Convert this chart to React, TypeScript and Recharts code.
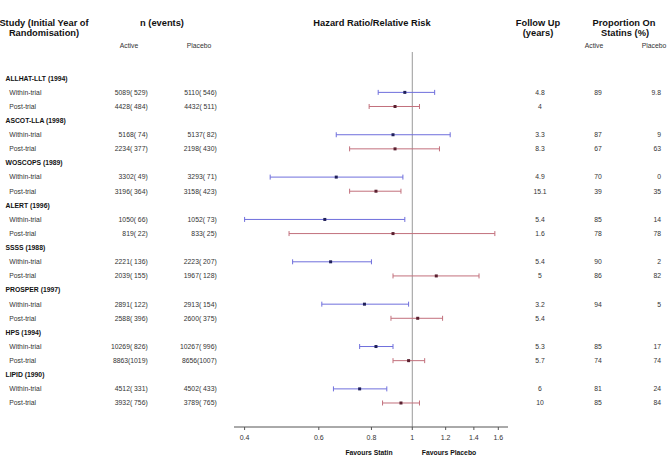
import { ScatterChart, Scatter, XAxis, YAxis, ErrorBar, ReferenceLine } from 'recharts';

const studies = [
  'ALLHAT-LLT (1994)',
  'ASCOT-LLA (1998)',
  'WOSCOPS (1989)',
  'ALERT (1996)',
  'SSSS (1988)',
  'PROSPER (1997)',
  'HPS (1994)',
  'LIPID (1990)',
];

// hazard ratio / relative risk with 95% CI
const withinHR = [0.96, 0.9, 0.66, 0.62, 0.64, 0.77, 0.82, 0.75];
const withinLow = [0.83, 0.66, 0.46, 0.4, 0.52, 0.61, 0.75, 0.65];
const withinHigh = [1.13, 1.23, 0.95, 0.96, 0.8, 0.98, 0.9, 0.87];
const postHR = [0.91, 0.91, 0.82, 0.9, 1.14, 1.03, 0.98, 0.94];
const postLow = [0.79, 0.71, 0.71, 0.51, 0.9, 0.89, 0.9, 0.85];
const postHigh = [1.04, 1.16, 0.94, 1.57, 1.44, 1.18, 1.07, 1.04];

// n (events)
const withinActive = ['5089( 529)', '5168( 74)', '3302( 49)', '1050( 66)', '2221( 136)', '2891( 122)', '10269( 826)', '4512( 331)'];
const withinPlacebo = ['5110( 546)', '5137( 82)', '3293( 71)', '1052( 73)', '2223( 207)', '2913( 154)', '10267( 996)', '4502( 433)'];
const postActive = ['4428( 484)', '2234( 377)', '3196( 364)', '819( 22)', '2039( 155)', '2588( 396)', '8863(1019)', '3932( 756)'];
const postPlacebo = ['4432( 511)', '2198( 430)', '3158( 423)', '833( 25)', '1967( 128)', '2600( 375)', '8656(1007)', '3789( 765)'];

// follow up (years) and proportion on statins (%)
const withinFollowUp = ['4.8', '3.3', '4.9', '5.4', '5.4', '3.2', '5.3', '6'];
const postFollowUp = ['4', '8.3', '15.1', '1.6', '5', '5.4', '5.7', '10'];
const withinPropActive = ['89', '87', '70', '85', '90', '94', '85', '81'];
const withinPropPlacebo = ['9.8', '9', '0', '14', '2', '5', '17', '24'];
const postPropActive = ['', '67', '39', '78', '86', '', '74', '85'];
const postPropPlacebo = ['', '63', '35', '78', '82', '', '74', '84'];

const xTicks = [0.4, 0.6, 0.8, 1, 1.2, 1.4, 1.6];

type Row = { kind: 'study' | 'within' | 'post'; study: number };

const rows: Row[] = studies.flatMap((_, i) => [
  { kind: 'study' as const, study: i },
  { kind: 'within' as const, study: i },
  { kind: 'post' as const, study: i },
]);
const rowTicks = rows.map((_, i) => i);

const withinData = studies.map((_, i) => ({
  row: i * 3 + 1,
  hr: withinHR[i],
  err: [withinHR[i] - withinLow[i], withinHigh[i] - withinHR[i]],
}));
const postData = studies.map((_, i) => ({
  row: i * 3 + 2,
  hr: postHR[i],
  err: [postHR[i] - postLow[i], postHigh[i] - postHR[i]],
}));

const FONT = '"Liberation Sans", Arial, sans-serif';

function RowTick(props: any) {
  const { y, payload } = props;
  const r = rows[payload.value];
  if (!r) return null;
  const i = r.study;
  if (r.kind === 'study') {
    return (
      <text x={5.5} y={y} dy="0.35em" fontSize={6.8} fontWeight="bold" fill="#111" fontFamily={FONT}>
        {studies[i]}
      </text>
    );
  }
  const w = r.kind === 'within';
  return (
    <g fontSize={6.8} fill="#333" fontFamily={FONT} style={{ whiteSpace: 'pre' }}>
      <text x={9.3} y={y} dy="0.35em">{w ? 'Within-trial' : 'Post-trial'}</text>
      <text x={147.7} y={y} dy="0.35em" textAnchor="end">{w ? withinActive[i] : postActive[i]}</text>
      <text x={216.7} y={y} dy="0.35em" textAnchor="end">{w ? withinPlacebo[i] : postPlacebo[i]}</text>
      <text x={540} y={y} dy="0.35em" textAnchor="middle">{w ? withinFollowUp[i] : postFollowUp[i]}</text>
      <text x={598} y={y} dy="0.35em" textAnchor="middle">{w ? withinPropActive[i] : postPropActive[i]}</text>
      <text x={661} y={y} dy="0.35em" textAnchor="end">{w ? withinPropPlacebo[i] : postPropPlacebo[i]}</text>
    </g>
  );
}

const dot = (fill: string) => (p: any) => (
  <rect x={p.cx - 1.5} y={p.cy - 1.5} width={3} height={3} fill={fill} />
);

function Headers() {
  const bold = { fontSize: 9.3, fontWeight: 'bold' as const, fill: '#111', textAnchor: 'middle' as const, dominantBaseline: 'central' as const };
  const small = { fontSize: 6.8, fill: '#333', textAnchor: 'middle' as const, dominantBaseline: 'central' as const };
  return (
    <svg width={669} height={463} style={{ position: 'absolute', left: 0, top: 0, pointerEvents: 'none' }} fontFamily={FONT}>
      <text x={44} y={22.7} {...bold}>Study (Initial Year of</text>
      <text x={44} y={33.3} {...bold}>Randomisation)</text>
      <text x={162} y={22.7} {...bold}>n (events)</text>
      <text x={129} y={45.3} {...small}>Active</text>
      <text x={199} y={45.3} {...small}>Placebo</text>
      <text x={372} y={22.7} {...bold}>Hazard Ratio/Relative Risk</text>
      <text x={538} y={22.7} {...bold}>Follow Up</text>
      <text x={538} y={33.3} {...bold}>(years)</text>
      <text x={624} y={22.7} {...bold}>Proportion On</text>
      <text x={625} y={33.3} {...bold}>Statins (%)</text>
      <text x={594} y={45.3} {...small}>Active</text>
      <text x={654} y={45.3} {...small}>Placebo</text>
      <text x={369} y={452} {...small} fontWeight="bold" fill="#111">Favours Statin</text>
      <text x={449} y={452} {...small} fontWeight="bold" fill="#111">Favours Placebo</text>
    </svg>
  );
}

export default function App() {
  return (
    <div style={{ position: 'absolute', left: 0, top: 0, width: 669, height: 463, background: '#fff' }}>
      <ScatterChart width={669} height={463} margin={{ top: 52, right: 161, bottom: 0, left: 0 }}>
        <XAxis
          type="number"
          dataKey="hr"
          scale="log"
          domain={[0.3775, 1.687]}
          allowDataOverflow
          ticks={xTicks}
          interval={0}
          height={36}
          axisLine={{ stroke: '#555' }}
          tickLine={{ stroke: '#555' }}
          tickSize={3}
          tickMargin={5}
          tick={{ fontSize: 7, fill: '#333', fontFamily: FONT }}
          tickFormatter={(v: number) => String(v)}
        />
        <YAxis
          type="number"
          dataKey="row"
          domain={[-1.86, 24.7]}
          reversed
          ticks={rowTicks}
          interval={0}
          width={234}
          axisLine={false}
          tickLine={false}
          tick={<RowTick />}
        />
        <ReferenceLine x={1} stroke="#999" strokeWidth={1} />
        <Scatter data={withinData} isAnimationActive={false} shape={dot('#20205a')}>
          <ErrorBar dataKey="err" direction="x" width={2.5} stroke="#6f6fdc" strokeWidth={1} isAnimationActive={false} />
        </Scatter>
        <Scatter data={postData} isAnimationActive={false} shape={dot('#5a2030')}>
          <ErrorBar dataKey="err" direction="x" width={2.5} stroke="#c2707c" strokeWidth={1} isAnimationActive={false} />
        </Scatter>
      </ScatterChart>
      <Headers />
    </div>
  );
}
